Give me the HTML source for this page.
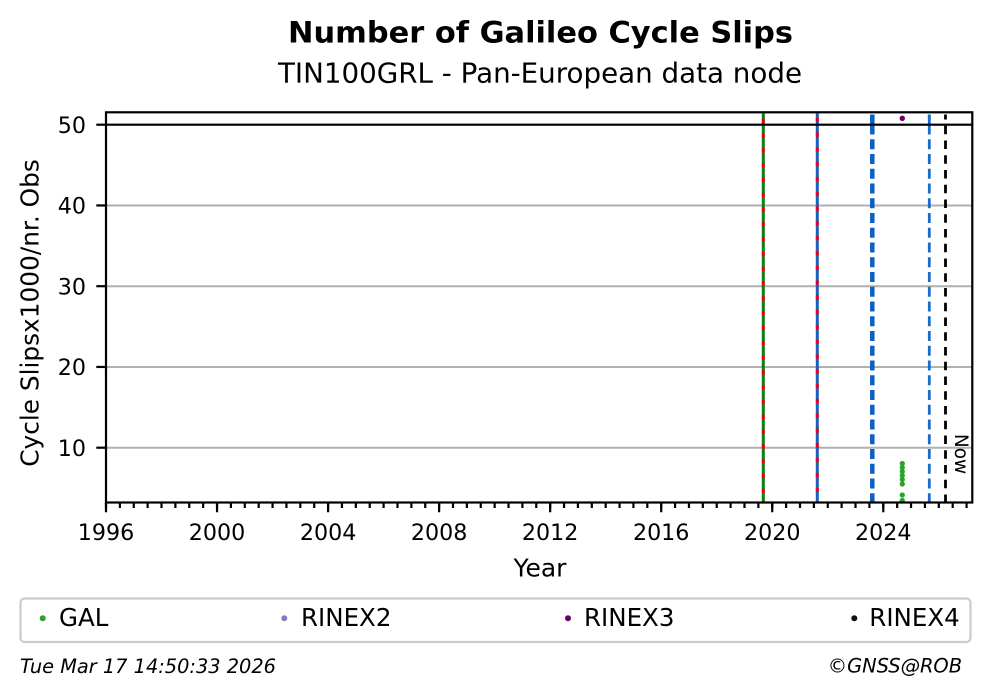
<!DOCTYPE html>
<html>
<head>
<meta charset="utf-8">
<style>
  html, body { margin: 0; padding: 0; background: #ffffff; }
  svg { display: block; }
  text { font-family: "DejaVu Sans", "Liberation Sans", sans-serif; fill: #000; }
</style>
</head>
<body>
<svg width="993" height="699" viewBox="0 0 993 699" xmlns="http://www.w3.org/2000/svg">
  <rect x="0" y="0" width="993" height="699" fill="#ffffff"/>

  <!-- Titles -->
  <text x="540.5" y="42.7" font-size="29" font-weight="bold" text-anchor="middle" textLength="505" lengthAdjust="spacingAndGlyphs">Number of Galileo Cycle Slips</text>
  <text x="540" y="82.7" font-size="27.7" text-anchor="middle" textLength="524" lengthAdjust="spacingAndGlyphs">TIN100GRL - Pan-European data node</text>

  <!-- Gridlines -->
  <g stroke="#b0b0b0" stroke-width="2">
    <line x1="106" y1="124.7" x2="972" y2="124.7"/>
    <line x1="106" y1="205.45" x2="972" y2="205.45"/>
    <line x1="106" y1="286.2" x2="972" y2="286.2"/>
    <line x1="106" y1="366.95" x2="972" y2="366.95"/>
    <line x1="106" y1="447.7" x2="972" y2="447.7"/>
  </g>

  <!-- Vertical event lines -->
  <!-- green with red dashes -->
  <line x1="763.3" y1="113.5" x2="763.3" y2="502" stroke="#0a800a" stroke-width="3"/>
  <line x1="763.3" y1="114.5" x2="763.3" y2="502" stroke="#e8001a" stroke-width="3" stroke-dasharray="4.3 10.5" stroke-dashoffset="10.6"/>
  <!-- blue with red dashes -->
  <line x1="817.3" y1="113.5" x2="817.3" y2="502" stroke="#1f5fb8" stroke-width="3"/>
  <line x1="817.3" y1="114.5" x2="817.3" y2="502" stroke="#e8001a" stroke-width="3" stroke-dasharray="4.3 10.5" stroke-dashoffset="11.6"/>
  <!-- thick blue dashed -->
  <line x1="872.3" y1="114.5" x2="872.3" y2="502" stroke="#0b60c2" stroke-width="4.5" stroke-dasharray="10 4.75" stroke-dashoffset="4.7"/>
  <line x1="872.3" y1="114.5" x2="872.3" y2="124.5" stroke="#0b60c2" stroke-width="4.5"/>
  <!-- thin blue dashed -->
  <line x1="929.3" y1="114.5" x2="929.3" y2="502" stroke="#1a6cc8" stroke-width="2.8" stroke-dasharray="10 4.75" stroke-dashoffset="4.7"/>
  <line x1="929.3" y1="114.5" x2="929.3" y2="124.5" stroke="#1a6cc8" stroke-width="2.8"/>
  <!-- black dashed (Now) -->
  <line x1="945.5" y1="114.5" x2="945.5" y2="502" stroke="#000" stroke-width="2.8" stroke-dasharray="8.5 6.25" stroke-dashoffset="3.45"/>

  <!-- Now label -->
  <text transform="translate(955,454) rotate(90)" font-size="18.5" text-anchor="middle">Now</text>

  <!-- Data points -->
  <g fill="#2ca02c">
    <circle cx="902.3" cy="463.5" r="2.6"/>
    <circle cx="902.3" cy="467.5" r="2.6"/>
    <circle cx="902.3" cy="471.5" r="2.6"/>
    <circle cx="902.3" cy="475.5" r="2.6"/>
    <circle cx="902.3" cy="479.5" r="2.6"/>
    <circle cx="902.3" cy="484" r="2.6"/>
    <circle cx="902.3" cy="495" r="2.6"/>
    <circle cx="902.3" cy="500.5" r="2.6"/>
  </g>
  <circle cx="902.3" cy="118.3" r="2.7" fill="#6a006a"/>

  <!-- axhline at 50 -->
  <line x1="106" y1="124.7" x2="972.3" y2="124.7" stroke="#000" stroke-width="2.2"/>

  <!-- Spines -->
  <rect x="106" y="112.3" width="866.3" height="390.2" fill="none" stroke="#000" stroke-width="2.2"/>

  <!-- X ticks -->
  <line x1="104.9" y1="505.25" x2="968" y2="505.25" stroke="#000" stroke-width="5.5" stroke-dasharray="2.2 11.68"/>
  <line x1="104.9" y1="507.35" x2="886" y2="507.35" stroke="#000" stroke-width="9.7" stroke-dasharray="2.2 108.84"/>

  <!-- Y ticks -->
  <g stroke="#000" stroke-width="2.2">
    <line x1="96.3" y1="124.7" x2="106" y2="124.7"/>
    <line x1="96.3" y1="205.45" x2="106" y2="205.45"/>
    <line x1="96.3" y1="286.2" x2="106" y2="286.2"/>
    <line x1="96.3" y1="366.95" x2="106" y2="366.95"/>
    <line x1="96.3" y1="447.7" x2="106" y2="447.7"/>
  </g>

  <!-- Y tick labels -->
  <g font-size="22.2" text-anchor="end">
    <text x="86" y="132.8">50</text>
    <text x="86" y="213.55">40</text>
    <text x="86" y="294.3">30</text>
    <text x="86" y="375.05">20</text>
    <text x="86" y="455.8">10</text>
  </g>

  <!-- X tick labels -->
  <g font-size="22.2" text-anchor="middle">
    <text x="106" y="540">1996</text>
    <text x="217.04" y="540">2000</text>
    <text x="328.08" y="540">2004</text>
    <text x="439.12" y="540">2008</text>
    <text x="550.16" y="540">2012</text>
    <text x="661.2" y="540">2016</text>
    <text x="772.24" y="540">2020</text>
    <text x="883.28" y="540">2024</text>
  </g>

  <!-- Axis labels -->
  <text x="540" y="576.5" font-size="25" text-anchor="middle">Year</text>
  <text transform="translate(38.5,313) rotate(-90)" font-size="24.8" text-anchor="middle">Cycle Slipsx1000/nr. Obs</text>

  <!-- Legend -->
  <rect x="20.5" y="598.5" width="950" height="43.5" rx="4" ry="4" fill="#ffffff" stroke="#cccccc" stroke-width="2.2"/>
  <circle cx="42.7" cy="618.3" r="3" fill="#2ca02c"/>
  <text x="59" y="626" font-size="24.5">GAL</text>
  <circle cx="284.3" cy="618.3" r="3" fill="#8080c0"/>
  <text x="301" y="626" font-size="24.5">RINEX2</text>
  <circle cx="568" cy="618.3" r="3" fill="#660066"/>
  <text x="584" y="626" font-size="24.5">RINEX3</text>
  <circle cx="854.3" cy="618.3" r="3" fill="#1a0a1a"/>
  <text x="869.3" y="626" font-size="24.5">RINEX4</text>

  <!-- Footer -->
  <text x="20" y="673" font-size="19.4" font-style="italic" textLength="256" lengthAdjust="spacingAndGlyphs">Tue Mar 17 14:50:33 2026</text>
  <text x="962" y="672.5" font-size="19.4" font-style="italic" text-anchor="end">©GNSS@ROB</text>
</svg>
</body>
</html>
